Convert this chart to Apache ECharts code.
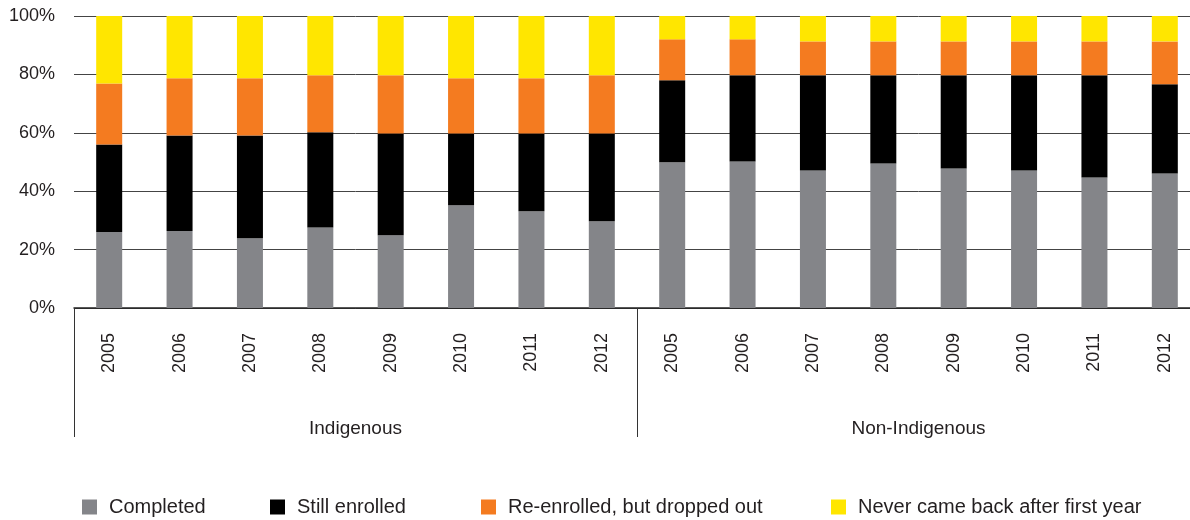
<!DOCTYPE html>
<html>
<head>
<meta charset="utf-8">
<title>Student outcomes by commencement year</title>
<script src="https://cdn.jsdelivr.net/npm/echarts@6/dist/echarts.min.js"></script>
<style>
  html, body { margin: 0; padding: 0; background: #ffffff; overflow: hidden; }
  /* the last category runs slightly past the right edge of the page */
  #chart { width: 1200px; height: 520px; }
</style>
</head>
<body>
<div id="chart"></div>
<script>
// Commencement years, repeated for each student group
const years = ['2005', '2006', '2007', '2008', '2009', '2010', '2011', '2012',
               '2005', '2006', '2007', '2008', '2009', '2010', '2011', '2012'];
const groups = ['Indigenous', 'Non-Indigenous'];

// Share of each cohort (%) by outcome
const completed     = [26.0, 26.4, 23.9, 27.6, 24.9, 35.2, 33.1, 29.7, 49.9, 50.2, 47.1, 49.5, 47.8, 47.1, 44.7, 46.1];
const stillEnrolled = [30.0, 32.7, 35.2, 32.6, 34.9, 24.6, 26.7, 30.1, 28.1, 29.5, 32.6, 30.2, 31.9, 32.6, 35.0, 30.5];
const reEnrolled    = [20.9, 19.6, 19.6, 19.5, 19.9, 18.9, 18.9, 19.9, 14.0, 12.3, 11.6, 11.6, 11.6, 11.6, 11.6, 14.7];
const neverBack     = [23.1, 21.3, 21.3, 20.3, 20.3, 21.3, 21.3, 20.3,  8.0,  8.0,  8.7,  8.7,  8.7,  8.7,  8.7,  8.7];

const seriesNames = ['Completed', 'Still enrolled', 'Re-enrolled, but dropped out', 'Never came back after first year'];
const seriesColors = ['#848589', '#000000', '#f47b20', '#ffe600'];
const seriesData = [completed, stillEnrolled, reEnrolled, neverBack];

const FONT = '"Liberation Sans", Arial, sans-serif';
const TEXT = '#231f20';

// One legend block per outcome so each entry sits at its own spot
const legendLefts = [82, 270, 481, 831];
const legends = seriesNames.map((name, i) => ({
  data: [name],
  left: legendLefts[i],
  top: 497,
  icon: 'rect',
  itemWidth: 15,
  itemHeight: 15,
  padding: 0,
  selectedMode: false,
  textStyle: { fontFamily: FONT, fontSize: 20, color: TEXT, padding: [0, 0, 0, 7] }
}));

const chart = echarts.init(document.getElementById('chart'), null, { renderer: 'canvas' });

chart.setOption({
  animation: false,
  backgroundColor: '#ffffff',
  legend: legends,
  grid: { left: 74, top: 16, width: 1126, height: 292, containLabel: false },
  xAxis: [
    {
      type: 'category',
      data: years,
      position: 'bottom',
      axisLine: { show: true, lineStyle: { color: '#222222', width: 1.5 } },
      axisTick: { show: false },
      axisLabel: {
        interval: 0, rotate: 90, margin: 25,
        fontFamily: FONT, fontSize: 18, color: TEXT
      },
      splitLine: { show: false }
    },
    {
      type: 'category',
      data: groups,
      position: 'bottom',
      axisLine: { show: false },
      axisTick: { show: true, interval: 0, length: 129, lineStyle: { color: '#333333', width: 1 } },
      axisLabel: { interval: 0, margin: 111, fontFamily: FONT, fontSize: 19, color: TEXT },
      splitLine: { show: false }
    }
  ],
  yAxis: {
    type: 'value',
    min: 0,
    max: 100,
    interval: 20,
    axisLine: { show: false },
    axisTick: { show: false },
    axisLabel: { formatter: '{value}%', margin: 19, fontFamily: FONT, fontSize: 18, color: TEXT },
    splitLine: { show: true, lineStyle: { color: '#444444', width: 1 } }
  },
  series: seriesNames.map((name, i) => ({
    name: name,
    type: 'bar',
    stack: 'outcome',
    xAxisIndex: 0,
    barWidth: 26,
    itemStyle: { color: seriesColors[i] },
    emphasis: { disabled: true },
    data: seriesData[i]
  }))
});
</script>
</body>
</html>
